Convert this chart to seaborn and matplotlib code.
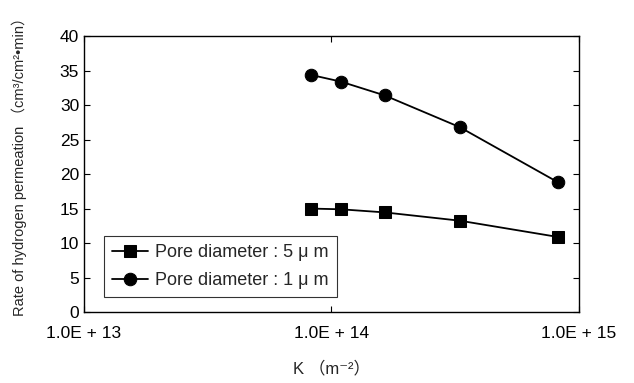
import numpy as np
import pandas as pd
import seaborn as sns
import matplotlib.pyplot as plt
from matplotlib.ticker import FixedLocator, NullLocator

# K (m^-2) と水素透過速度
k_vals = [8.3e13, 1.09e14, 1.64e14, 3.3e14, 8.2e14]
rate_5um = [15.0, 14.9, 14.45, 13.25, 10.9]
rate_1um = [34.35, 33.4, 31.4, 26.8, 18.85]
labels = ["Pore diameter : 5 μ m", "Pore diameter : 1 μ m"]
x_ticks = [1e13, 1e14, 1e15]
x_ticklabels = ["1.0E + 13", "1.0E + 14", "1.0E + 15"]

df = pd.DataFrame({
    "K": k_vals * 2,
    "rate": rate_5um + rate_1um,
    "series": [labels[0]] * len(k_vals) + [labels[1]] * len(k_vals),
})

sns.set_style("white")
fonts = ["Liberation Sans", "Noto Sans CJK JP", "DejaVu Sans"]
plt.rcParams["font.family"] = fonts

fig = plt.figure(figsize=(6.34, 3.83), dpi=100)
ax = fig.add_axes([0.1325, 0.185, 0.7805, 0.721])

sns.lineplot(data=df, x="K", y="rate", hue="series", style="series",
             markers={labels[0]: "s", labels[1]: "o"}, dashes=False,
             palette={labels[0]: "black", labels[1]: "black"},
             markersize=9, linewidth=1.3, markeredgecolor="black", ax=ax)

ax.set_xscale("log")
ax.set_xlim(1e13, 1e15)
ax.set_ylim(0, 40)
ax.xaxis.set_major_locator(FixedLocator(x_ticks))
ax.xaxis.set_minor_locator(NullLocator())
ax.set_xticklabels(x_ticklabels)
ax.set_yticks(range(0, 41, 5))

ax.tick_params(direction="in", length=4, width=0.8, colors="black",
               labelsize=12.5, top=True, right=True, bottom=True, left=True)
ax.tick_params(axis="x", pad=10)
for sp in ax.spines.values():
    sp.set_color("black")
    sp.set_linewidth(1.0)

ax.set_xlabel("K （m⁻²）", fontsize=12, labelpad=14, family=fonts)
ax.set_ylabel("Rate of hydrogen permeation （cm³/cm²•min）", fontsize=10.5,
              family=fonts)
ax.yaxis.set_label_coords(-0.115, 0.54)

leg = ax.legend(loc="lower left", bbox_to_anchor=(0.04, 0.054), fontsize=13,
                frameon=True, fancybox=False, edgecolor="black",
                handlelength=2.0, handletextpad=0.4, borderpad=0.45,
                labelspacing=0.6, borderaxespad=0)
leg.get_frame().set_linewidth(0.8)

fig.savefig("out.png", dpi=100)
